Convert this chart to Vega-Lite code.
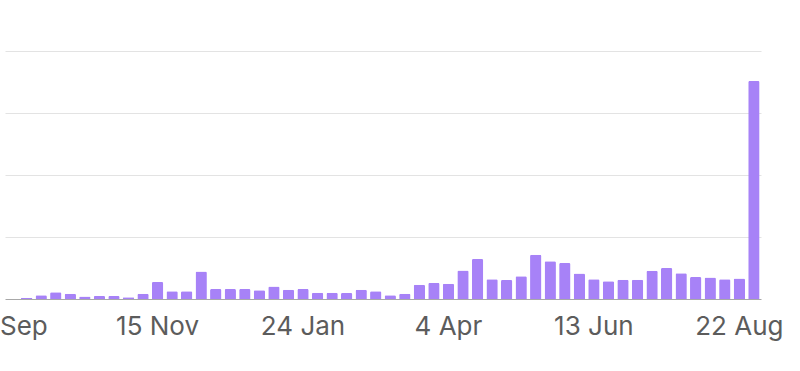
{
  "$schema": "https://vega.github.io/schema/vega-lite/v6.json",
  "autosize": "none",
  "width": 756,
  "height": 248,
  "padding": {"left": 5, "top": 51, "right": 39, "bottom": 72},
  "background": "white",
  "config": {"view": {"stroke": null}},
  "data": {"values": [
    {"week": "2020-09-06", "v": 0},
    {"week": "2020-09-13", "v": 0.2},
    {"week": "2020-09-20", "v": 0.6},
    {"week": "2020-09-27", "v": 1.1},
    {"week": "2020-10-04", "v": 0.85},
    {"week": "2020-10-11", "v": 0.4},
    {"week": "2020-10-18", "v": 0.5},
    {"week": "2020-10-25", "v": 0.5},
    {"week": "2020-11-01", "v": 0.3},
    {"week": "2020-11-08", "v": 0.85},
    {"week": "2020-11-15", "v": 2.75},
    {"week": "2020-11-22", "v": 1.25},
    {"week": "2020-11-29", "v": 1.25},
    {"week": "2020-12-06", "v": 4.45},
    {"week": "2020-12-13", "v": 1.6},
    {"week": "2020-12-20", "v": 1.6},
    {"week": "2020-12-27", "v": 1.6},
    {"week": "2021-01-03", "v": 1.4},
    {"week": "2021-01-10", "v": 2.0},
    {"week": "2021-01-17", "v": 1.5},
    {"week": "2021-01-24", "v": 1.6},
    {"week": "2021-01-31", "v": 1.0},
    {"week": "2021-02-07", "v": 1.0},
    {"week": "2021-02-14", "v": 0.95},
    {"week": "2021-02-21", "v": 1.5},
    {"week": "2021-02-28", "v": 1.25},
    {"week": "2021-03-07", "v": 0.6},
    {"week": "2021-03-14", "v": 0.85},
    {"week": "2021-03-21", "v": 2.3},
    {"week": "2021-03-28", "v": 2.6},
    {"week": "2021-04-04", "v": 2.45},
    {"week": "2021-04-11", "v": 4.6},
    {"week": "2021-04-18", "v": 6.45},
    {"week": "2021-04-25", "v": 3.2},
    {"week": "2021-05-02", "v": 3.05},
    {"week": "2021-05-09", "v": 3.65},
    {"week": "2021-05-16", "v": 7.15},
    {"week": "2021-05-23", "v": 6.1},
    {"week": "2021-05-30", "v": 5.8},
    {"week": "2021-06-06", "v": 4.1},
    {"week": "2021-06-13", "v": 3.2},
    {"week": "2021-06-20", "v": 2.85},
    {"week": "2021-06-27", "v": 3.1},
    {"week": "2021-07-04", "v": 3.1},
    {"week": "2021-07-11", "v": 4.55},
    {"week": "2021-07-18", "v": 5.0},
    {"week": "2021-07-25", "v": 4.15},
    {"week": "2021-08-01", "v": 3.55},
    {"week": "2021-08-08", "v": 3.45},
    {"week": "2021-08-15", "v": 3.2},
    {"week": "2021-08-22", "v": 3.3},
    {"week": "2021-08-29", "v": 35.15}
  ]},
  "mark": {"type": "bar", "color": "#a782f7", "cornerRadiusTopLeft": 1.5, "cornerRadiusTopRight": 1.5},
  "encoding": {
    "x": {
      "field": "week",
      "type": "ordinal",
      "sort": null,
      "scale": {"paddingInner": 0.22, "paddingOuter": 0.1},
      "axis": {
        "title": null,
        "values": ["2020-09-06", "2020-11-15", "2021-01-24", "2021-04-04", "2021-06-13", "2021-08-22"],
        "labelExpr": "utcFormat(toDate(datum.value), '%-d %b')",
        "labelAngle": 0,
        "labelFont": "Inter",
        "labelFontSize": 26,
        "labelColor": "#5c5c5c",
        "labelPadding": 14,
        "labelOverlap": false,
        "labelBound": false,
        "ticks": false,
        "domainColor": "#a8a8a8",
        "domainWidth": 1,
        "grid": false
      }
    },
    "y": {
      "field": "v",
      "type": "quantitative",
      "scale": {"domain": [0, 40], "nice": false},
      "axis": {
        "title": null,
        "labels": false,
        "ticks": false,
        "domain": false,
        "values": [10, 20, 30, 40],
        "grid": true,
        "gridColor": "#e3e3e3",
        "gridWidth": 1.2
      }
    }
  }
}
